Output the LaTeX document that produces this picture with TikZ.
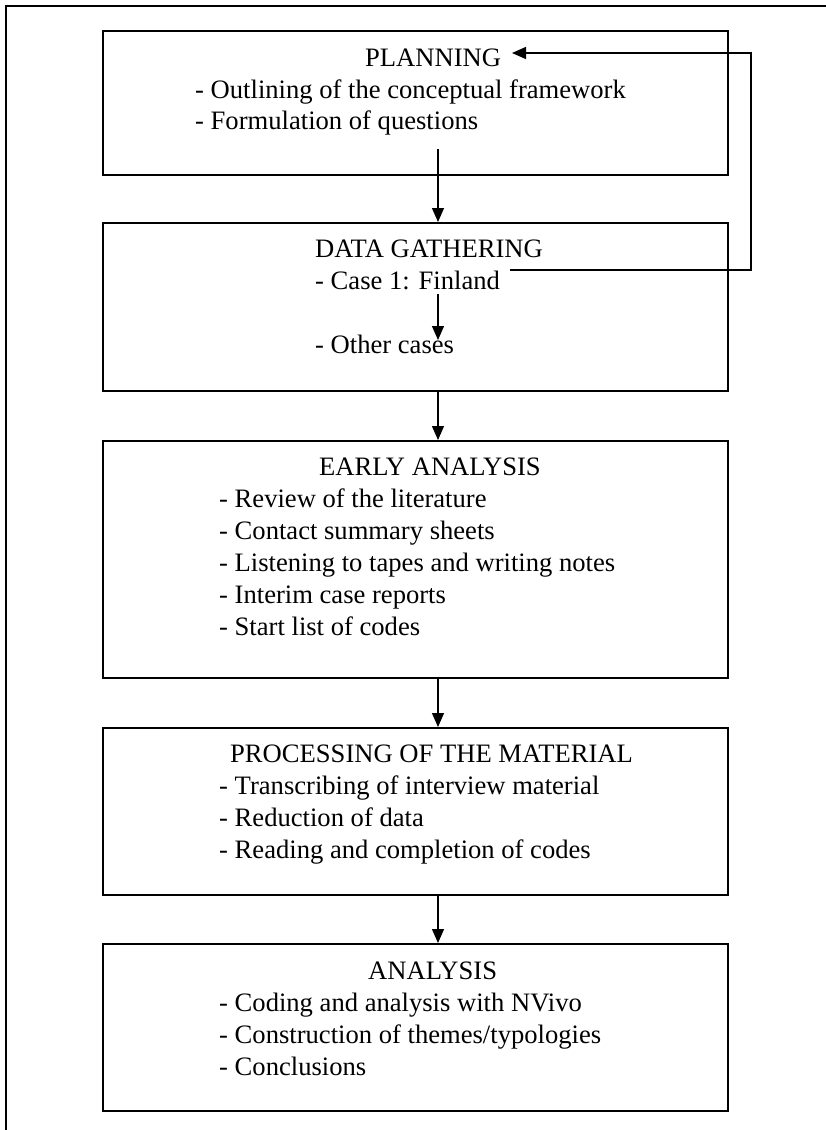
\documentclass[tikz,border=0pt]{standalone}
\usepackage{fontspec}
\setmainfont{Liberation Serif}
\usetikzlibrary{arrows.meta}
\begin{document}
\begin{tikzpicture}[x=1pt,y=-1pt,
  frame/.style={line width=1.6pt},
  stage/.style={draw, line width=1.6pt, rectangle, inner sep=0pt, anchor=north west},
  txt/.style={anchor=base west, inner sep=0pt, font=\fontsize{26.6}{31.6}\selectfont},
  flow/.style={line width=1.3pt, -{Triangle[length=14pt,width=12pt]}}]
\useasboundingbox (0,0) rectangle (826,1130);

% page frame (only the top and left edges fall inside the page)
\draw[frame] (6,1140) -- (6,6) -- (840,6);

% stage boxes
\node[stage, minimum width=625pt, minimum height=144pt] (plan)    at (102,30)  {};
\node[stage, minimum width=625pt, minimum height=168pt] (gather)  at (102,222) {};
\node[stage, minimum width=625pt, minimum height=237pt] (early)   at (102,440) {};
\node[stage, minimum width=625pt, minimum height=167pt] (process) at (102,727) {};
\node[stage, minimum width=625pt, minimum height=167pt] (analysis) at (102,943) {};

% PLANNING
\node[txt] (planT)  at (365,66)  {PLANNING};
\node[txt] (planA)  at (195,98)  {- Outlining of the conceptual framework};
\node[txt] (planB)  at (195,129) {- Formulation of questions};

% DATA GATHERING
\node[txt] (gathT)  at (315,257) {DATA GATHERING};
\node[txt] (gathA)  at (315,289) {- Case 1: Finland};
\node[txt] (gathB)  at (315,353) {- Other cases};

% EARLY ANALYSIS
\node[txt] (earlyT) at (319,475) {EARLY ANALYSIS};
\node[txt] (earlyA) at (219,507) {- Review of the literature};
\node[txt] (earlyB) at (219,539) {- Contact summary sheets};
\node[txt] (earlyC) at (219,571) {- Listening to tapes and writing notes};
\node[txt] (earlyD) at (219,603) {- Interim case reports};
\node[txt] (earlyE) at (219,635) {- Start list of codes};

% PROCESSING OF THE MATERIAL
\node[txt] (procT)  at (230,762) {PROCESSING OF THE MATERIAL};
\node[txt] (procA)  at (219,794) {- Transcribing of interview material};
\node[txt] (procB)  at (219,826) {- Reduction of data};
\node[txt] (procC)  at (219,858) {- Reading and completion of codes};

% ANALYSIS
\node[txt] (anT)    at (368,979)  {ANALYSIS};
\node[txt] (anA)    at (219,1011) {- Coding and analysis with NVivo};
\node[txt] (anB)    at (219,1043) {- Construction of themes/typologies};
\node[txt] (anC)    at (219,1075) {- Conclusions};

% connector end points
\coordinate (planOut) at (438,149);
\coordinate (caseOut) at (438,294);
\coordinate (caseIn)  at (438,340);
\coordinate (fbStart) at (510,270);
\coordinate (fbRight) at (751,270);
\coordinate (fbEnd)   at (512,53);

% main flow
\draw[flow] (planOut) -- (planOut |- gather.north);
\draw[flow] (caseOut) -- (caseIn);
\draw[flow] (gather.south -| planOut) -- (planOut |- early.north);
\draw[flow] (early.south -| planOut) -- (planOut |- process.north);
\draw[flow] (process.south -| planOut) -- (planOut |- analysis.north);

% feedback from data gathering to planning
\draw[flow] (fbStart) -- (fbRight) |- (fbEnd);
\end{tikzpicture}
\end{document}
